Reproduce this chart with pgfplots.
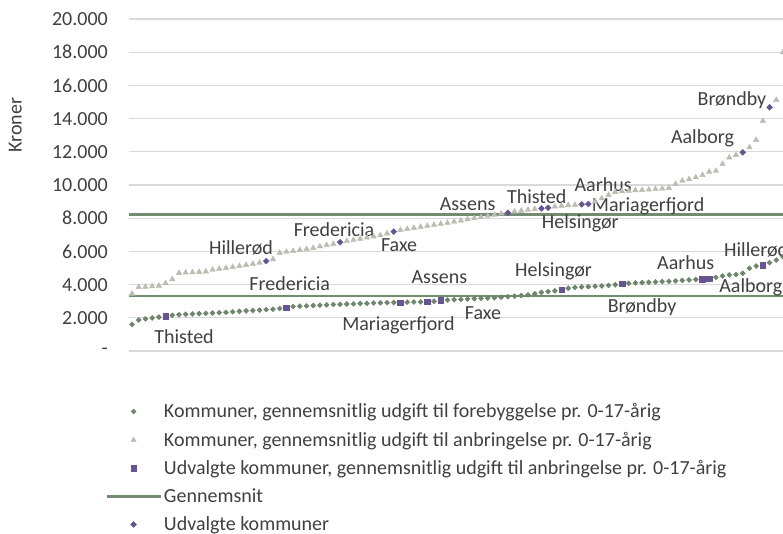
\documentclass[border=0pt]{standalone}
\usepackage{fontspec}
\setmainfont{Carlito}
\usepackage{pgfplots}
\usepackage{pgfplotstable}
\pgfplotsset{compat=1.18}

\definecolor{cgreen}{HTML}{6E866B}
\definecolor{cline}{HTML}{728B71}
\definecolor{ctri}{HTML}{BDBCB3}
\definecolor{cpurple}{HTML}{675591}
\definecolor{cgrid}{HTML}{D9D9D9}
\definecolor{ctext}{HTML}{404040}

\tikzset{lbl/.style={text=ctext, font=\fontsize{20}{24}\selectfont, inner sep=0pt, anchor=center}}
\pgfplotsset{
  legmark/.style={legend image code/.code={\path[draw=none,fill=none] (0pt,-3pt) rectangle (54pt,3pt); \draw[##1] plot coordinates {(27pt,0pt)};}},
  legline/.style={legend image code/.code={\draw[##1] (0pt,0pt) -- (54pt,0pt);}},
}

% anbringelse, alle kommuner (uden de udvalgte)
\pgfplotstableread{
x y
1 3450
2 3850
3 3870
4 3900
5 3930
6 4080
7 4320
8 4700
9 4720
10 4740
11 4760
12 4790
13 4900
14 4950
15 5000
16 5060
17 5120
18 5180
19 5250
20 5320
22 5530
23 5920
24 5970
25 6020
26 6080
27 6140
28 6200
29 6300
30 6380
31 6450
33 6620
34 6690
35 6760
36 6830
37 6900
38 6970
39 7080
41 7290
42 7350
43 7420
44 7480
45 7540
46 7600
47 7660
48 7720
49 7790
50 7860
51 7930
52 8000
53 8070
54 8140
55 8210
56 8280
58 8400
59 8450
60 8500
61 8550
64 8700
65 8740
66 8780
67 8800
70 9000
71 9200
72 9400
73 9580
74 9620
75 9650
76 9680
77 9700
78 9720
79 9750
80 9780
81 9820
82 10060
83 10260
84 10350
85 10460
86 10600
87 10800
88 10850
89 11270
90 11650
91 11810
93 12270
94 12710
95 13860
97 15120
98 18000
}\tri

% forebyggelse, alle kommuner (uden de udvalgte)
\pgfplotstableread{
x y
1 1600
2 1870
3 1940
4 1990
5 2040
7 2150
8 2180
9 2210
10 2230
11 2250
12 2270
13 2290
14 2310
15 2330
16 2360
17 2390
18 2420
19 2440
20 2460
21 2490
22 2520
23 2560
25 2680
26 2700
27 2720
28 2740
29 2760
30 2780
31 2800
32 2810
33 2830
34 2840
35 2860
36 2870
37 2890
38 2900
39 2910
40 2920
42 2940
43 2950
44 2960
46 3000
48 3070
49 3090
50 3110
51 3130
52 3150
53 3170
54 3190
55 3210
56 3240
57 3270
58 3300
59 3340
60 3380
61 3450
62 3530
63 3580
64 3620
66 3780
67 3830
68 3860
69 3880
70 3900
71 3920
72 3950
73 3990
75 4080
76 4100
77 4120
78 4140
79 4160
80 4180
81 4200
82 4220
83 4250
84 4280
85 4310
88 4440
89 4520
90 4580
91 4600
92 4680
93 4980
94 5120
96 5320
97 5480
98 5680
}\fore

% udvalgte kommuner, anbringelse
\pgfplotstableread{
x y
21 5420
32 6550
40 7190
57 8330
62 8590
63 8630
68 8835
69 8855
92 11970
96 14680
}\selA

% udvalgte kommuner, forebyggelse
\pgfplotstableread{
x y
6 2100
24 2610
41 2920
45 2970
47 3050
65 3690
74 4050
86 4340
87 4360
95 5160
}\selF

\begin{document}
\begin{tikzpicture}
\path[use as bounding box] (-129pt,-183pt) rectangle (654pt,351pt);
\begin{axis}[
    at={(0pt,0pt)}, anchor=south west,
    scale only axis,
    width=654pt, height=332pt,
    xmin=0.55, xmax=98,
    ymin=0, ymax=20000,
    xtick=\empty,
    ytick={0,2000,...,20000},
    yticklabels={-,2.000,4.000,6.000,8.000,10.000,12.000,14.000,16.000,18.000,20.000},
    scaled y ticks=false,
    ymajorgrids=true,
    grid style={cgrid, line width=1.2pt},
    axis line style={draw=none},
    major tick length=0pt,
    font=\fontsize{20}{24}\selectfont,
    every tick label/.append style={text=ctext},
    /pgf/number format/assume math mode=true,
    yticklabel style={anchor=east, inner sep=0pt, xshift=-21pt},
    ylabel={Kroner},
    ylabel style={at={(axis description cs:-0.174,0.68)}, anchor=center, rotate=0, text=ctext},
    legend style={at={(axis description cs:-0.0413,-0.146)}, anchor=north west,
      draw=none, fill=none, text=ctext, row sep=8.7pt,
      font=\fontsize{20}{24}\selectfont},
    legend cell align=left,
  ]
  % gennemsnit
  \addplot[forget plot, cline, line width=2.8pt] coordinates {(0.55,8240) (98,8240)};
  \addplot[forget plot, cline, line width=2.8pt] coordinates {(0.55,3310) (98,3310)};

  \addplot[forget plot, only marks, mark=triangle*, mark size=3.2pt, color=ctri] table {\tri};
  \addplot[forget plot, only marks, mark=square*, mark size=1.8pt, mark options={rotate=45}, color=cgreen] table {\fore};
  \addplot[forget plot, only marks, mark=square*, mark size=2.1pt, mark options={rotate=45}, color=cpurple] table {\selA};
  \addplot[forget plot, only marks, mark=square*, mark size=2.8pt, color=cpurple] table {\selF};

  \addlegendimage{legmark, only marks, mark=square*, mark size=1.8pt, mark options={rotate=45}, color=cgreen}
  \addlegendentry{Kommuner, gennemsnitlig udgift til forebyggelse pr. 0-17-årig}
  \addlegendimage{legmark, only marks, mark=triangle*, mark size=3pt, color=ctri}
  \addlegendentry{Kommuner, gennemsnitlig udgift til anbringelse pr. 0-17-årig}
  \addlegendimage{legmark, only marks, mark=square*, mark size=2.8pt, color=cpurple}
  \addlegendentry{Udvalgte kommuner, gennemsnitlig udgift til anbringelse pr. 0-17-årig}
  \addlegendimage{legline, cline, line width=2.8pt}
  \addlegendentry{Gennemsnit}
  \addlegendimage{legmark, only marks, mark=square*, mark size=2.1pt, mark options={rotate=45}, color=cpurple}
  \addlegendentry{Udvalgte kommuner}

  % etiketter, anbringelse
  \node[lbl] at (axis cs:17.24,6205) {Hillerød};
  \node[lbl] at (axis cs:31.1,7289) {Fredericia};
  \node[lbl] at (axis cs:40.8,6385) {Faxe};
  \node[lbl] at (axis cs:51.0,8837) {Assens};
  \node[lbl] at (axis cs:61.3,9295) {Thisted};
  \node[lbl] at (axis cs:71.2,10000) {Aarhus};
  \node[lbl] at (axis cs:77.9,8735) {Mariagerfjord};
  \node[lbl] at (axis cs:67.8,7693) {Helsingør};
  \node[lbl] at (axis cs:86.0,12813) {Aalborg};
  \node[lbl] at (axis cs:90.4,15120) {Brøndby};
  % etiketter, forebyggelse
  \node[lbl] at (axis cs:8.75,863) {Thisted};
  \node[lbl] at (axis cs:24.5,4078) {Fredericia};
  \node[lbl] at (axis cs:40.7,1526) {Mariagerfjord};
  \node[lbl] at (axis cs:46.8,4440) {Assens};
  \node[lbl] at (axis cs:53.3,2271) {Faxe};
  \node[lbl] at (axis cs:63.8,4777) {Helsingør};
  \node[lbl] at (axis cs:77.0,2632) {Brøndby};
  \node[lbl] at (axis cs:83.5,5319) {Aarhus};
  \node[lbl] at (axis cs:94.0,6084) {Hillerød};
  \node[lbl] at (axis cs:93.2,3837) {Aalborg};
\end{axis}
\end{tikzpicture}
\end{document}
